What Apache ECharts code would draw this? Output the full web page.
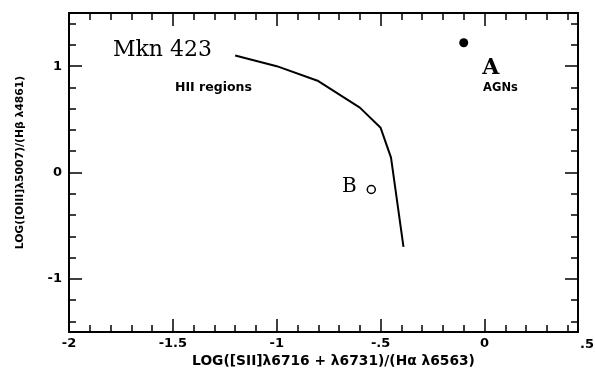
<!DOCTYPE html>
<html>
<head>
<meta charset="utf-8">
<script src="https://cdn.jsdelivr.net/npm/echarts@6/dist/echarts.min.js"></script>
<style>
  html, body { margin: 0; padding: 0; background: #fff; }
  #main { width: 595px; height: 369px; }
</style>
</head>
<body>
<div id="main"></div>
<script>
// 诊断图数据 (Mkn 423)
const curveX = [-1.2, -1.0, -0.8, -0.6, -0.5, -0.45, -0.39];
const curveY = [1.1, 1.0, 0.86, 0.61, 0.42, 0.14, -0.70];
const pointA = [-0.10, 1.22];
const pointB = [-0.545, -0.16];

// 刻度
const xMajor = [-2, -1.5, -1, -0.5, 0];
const xMinor = [-1.9, -1.8, -1.7, -1.6, -1.4, -1.3, -1.2, -1.1, -0.9, -0.8, -0.7, -0.6,
                -0.4, -0.3, -0.2, -0.1, 0.1, 0.2, 0.3, 0.4];
const yMajor = [-1, 0, 1];
const yMinor = [-1.4, -1.2, -0.8, -0.6, -0.4, -0.2, 0.2, 0.4, 0.6, 0.8, 1.2, 1.4];

// 注释文字 [x, y, 文字]
const notes = [
  [-1.55, 1.15, 'Mkn 423'],
  [-1.305, 0.80, 'HII regions'],
  [0.03, 0.98, 'A'],
  [0.077, 0.79, 'AGNs'],
  [-0.65, -0.13, 'B']
];

const noteStyles = {
  'Mkn 423': { fontFamily: 'DejaVu Serif', fontSize: 22, fontWeight: 'normal' },
  'HII regions': { fontFamily: 'DejaVu Sans', fontSize: 12.5, fontWeight: 'bold' },
  'A': { fontFamily: 'DejaVu Serif', fontSize: 22, fontWeight: 'bold' },
  'AGNs': { fontFamily: 'DejaVu Sans', fontSize: 11.5, fontWeight: 'bold' },
  'B': { fontFamily: 'DejaVu Serif', fontSize: 20, fontWeight: 'normal' }
};

const lbl = { fontFamily: 'DejaVu Sans', fontSize: 13, fontWeight: 'bold', color: '#000' };

function fmt(v) {
  if (v === 0) return '0';
  return String(v).replace('0.', '.');
}

// 每条边两根轴：主刻度 + 次刻度
function makeX(position, ticks, len, withLine, withLabels) {
  return {
    type: 'value', position: position, min: -2, max: 0.45,
    axisLine: { show: withLine, onZero: false, lineStyle: { color: '#000', width: 2 } },
    axisTick: { show: true, inside: true, length: len, customValues: ticks,
                lineStyle: { color: '#000', width: 1.5 } },
    axisLabel: withLabels
      ? Object.assign({ show: true, margin: 5, customValues: ticks, formatter: fmt }, lbl)
      : { show: false },
    splitLine: { show: false }
  };
}

function makeY(position, ticks, len, withLine, withLabels) {
  return {
    type: 'value', position: position, min: -1.5, max: 1.5,
    axisLine: { show: withLine, onZero: false, lineStyle: { color: '#000', width: 2 } },
    axisTick: { show: true, inside: true, length: len, customValues: ticks,
                lineStyle: { color: '#000', width: 1.5 } },
    axisLabel: withLabels
      ? Object.assign({ show: true, margin: 7, customValues: ticks, formatter: fmt }, lbl)
      : { show: false },
    splitLine: { show: false }
  };
}

const xBottom = makeX('bottom', xMajor, 13, true, true);
xBottom.name = 'LOG([SII]λ6716 + λ6731)/(Hα λ6563)';
xBottom.nameLocation = 'middle';
xBottom.nameGap = 18;
xBottom.nameTextStyle = Object.assign({}, lbl, { fontSize: 13.8, padding: [0, 0, 0, 20] });

const yLeft = makeY('left', yMajor, 13, true, true);
yLeft.name = 'LOG([OIII]λ5007)/(Hβ λ4861)';
yLeft.nameLocation = 'middle';
yLeft.nameGap = 43;
yLeft.nameTextStyle = Object.assign({}, lbl, { fontSize: 10.8, padding: [0, 0, 0, 20] });

const chart = echarts.init(document.getElementById('main'), null, { renderer: 'canvas' });

chart.setOption({
  backgroundColor: '#fff',
  animation: false,
  grid: { left: 69, right: 17, top: 13, bottom: 37, outerBoundsMode: 'none' },
  xAxis: [
    xBottom,
    makeX('bottom', xMinor, 7, false, false),
    makeX('top', xMajor, 13, true, false),
    makeX('top', xMinor, 7, false, false)
  ],
  yAxis: [
    yLeft,
    makeY('left', yMinor, 7, false, false),
    makeY('right', yMajor, 13, true, false),
    makeY('right', yMinor, 7, false, false)
  ],
  graphic: [{
    type: 'text', x: 587, y: 345,
    style: { text: '.5', align: 'center', verticalAlign: 'middle', fill: '#000',
      font: 'bold 13px "DejaVu Sans"' }
  }],
  series: [
    {
      type: 'line', silent: true, symbol: 'none',
      data: curveX.map((x, i) => [x, curveY[i]]),
      lineStyle: { color: '#000', width: 2 }
    },
    {
      type: 'scatter', silent: true, symbol: 'circle', symbolSize: 9,
      data: [pointA],
      itemStyle: { color: '#000', opacity: 1 }
    },
    {
      type: 'scatter', silent: true, symbol: 'circle', symbolSize: 8,
      data: [pointB],
      itemStyle: { color: '#fff', borderColor: '#000', borderWidth: 1.5, opacity: 1 }
    },
    {
      type: 'scatter', silent: true, symbolSize: 1,
      itemStyle: { color: 'rgba(0,0,0,0)', opacity: 1 },
      data: notes.map(n => ({
        value: [n[0], n[1]],
        label: Object.assign({ show: true, position: 'inside', formatter: n[2], color: '#000' },
          noteStyles[n[2]])
      }))
    }
  ]
});
</script>
</body>
</html>
